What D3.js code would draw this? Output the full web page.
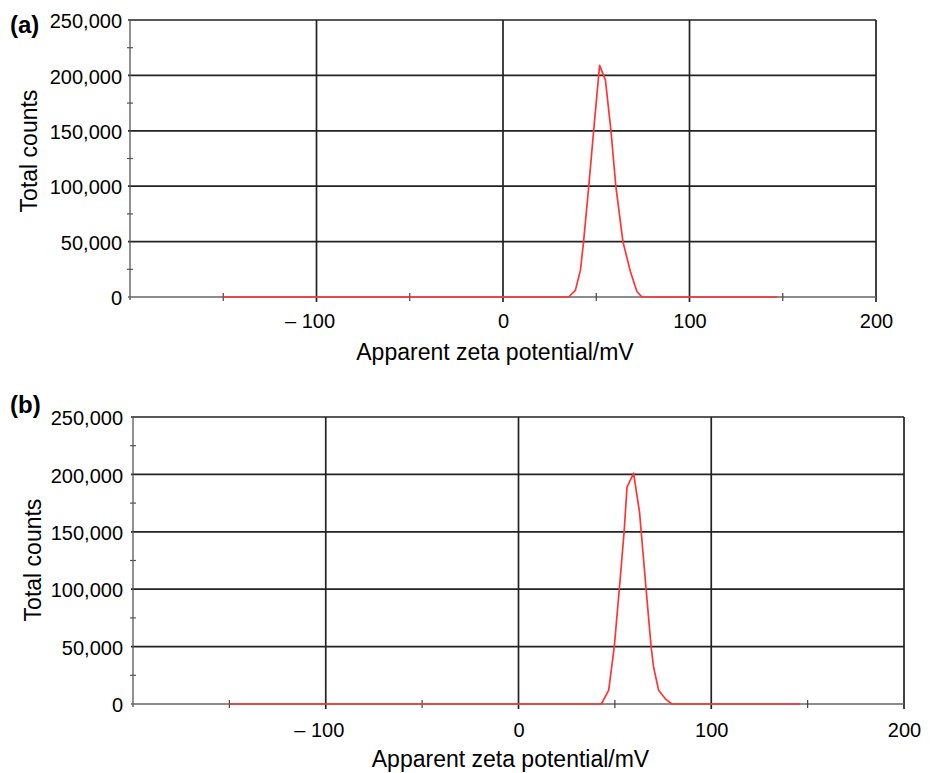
<!DOCTYPE html>
<html>
<head>
<meta charset="utf-8">
<script src="https://cdn.jsdelivr.net/npm/d3@7"></script>
<style>
  html, body { margin: 0; padding: 0; background: #fff; }
  svg { display: block; }
  text { font-family: "Liberation Sans", Arial, Helvetica, sans-serif; fill: #000; }
</style>
</head>
<body>
<svg id="chart" width="933" height="773"></svg>
<script>
// ---- data ----
const panelLabels = ["(a)", "(b)"];
const xTitle = "Apparent zeta potential/mV";
const yTitle = "Total counts";
const xLabelTicks = [-100, 0, 100, 200];
const xMinorTicks = [-150, -50, 50, 150];
const yMajorTicks = [0, 50000, 100000, 150000, 200000, 250000];
const yMinorTicks = [25000, 75000, 125000, 175000, 225000];

const zetaA   = [-150, 35.2, 38.8, 41.5, 43.2, 46.0, 48.6, 51.8, 54.9, 57.9, 60.5, 64.3, 68.3, 71.8, 74.5, 147];
const countsA = [0,    0,    6000, 24000, 50000, 100000, 150000, 209000, 196000, 150000, 100000, 50000, 23000, 5000, 0, 0];

const zetaB   = [-150, 43.0, 46.8, 49.7, 52.3, 54.8, 56.3, 59.7, 62.8, 66.2, 68.8, 70.1, 72.7, 76.5, 79.6, 146];
const countsB = [0,    0,    12000, 50000, 100000, 150000, 189000, 201000, 167000, 100000, 50000, 32000, 12000, 4000, 0, 0];

// ---- drawing ----
const svg = d3.select("#chart");

const panels = [
  { label: panelLabels[0], zeta: zetaA, counts: countsA,
    left: 130, right: 876, top: 20, bottom: 297,
    labelX: 10, labelY: 33, yTitleX: 37, yTitleY: 151, xTickDy: 31, xTitleY: 360, yLabelGap: 8 },
  { label: panelLabels[1], zeta: zetaB, counts: countsB,
    left: 133, right: 904, top: 417, bottom: 704,
    labelX: 10, labelY: 413, yTitleX: 41, yTitleY: 560, xTickDy: 33, xTitleY: 767, yLabelGap: 10 }
];

panels.forEach(p => {
  const x = d3.scaleLinear().domain([-200, 200]).range([p.left, p.right]);
  const y = d3.scaleLinear().domain([0, 250000]).range([p.bottom, p.top]);
  const g = svg.append("g");

  // horizontal gridlines
  g.selectAll(".hgrid").data(yMajorTicks.filter(v => v > 0)).enter().append("line")
    .attr("x1", p.left - 2).attr("x2", p.right)
    .attr("y1", d => y(d)).attr("y2", d => y(d))
    .attr("stroke", "#222").attr("stroke-width", 1.7);

  // vertical gridlines
  g.selectAll(".vgrid").data(xLabelTicks).enter().append("line")
    .attr("x1", d => x(d)).attr("x2", d => x(d))
    .attr("y1", p.top).attr("y2", p.bottom + 5)
    .attr("stroke", "#222").attr("stroke-width", 1.7);

  // left axis line
  g.append("line")
    .attr("x1", p.left).attr("x2", p.left)
    .attr("y1", p.top).attr("y2", p.bottom + 3)
    .attr("stroke", "#555").attr("stroke-width", 1.3);

  // bottom axis line
  g.append("line")
    .attr("x1", p.left - 2).attr("x2", p.right)
    .attr("y1", p.bottom).attr("y2", p.bottom)
    .attr("stroke", "#666").attr("stroke-width", 1.3);

  // y minor ticks
  g.selectAll(".yminor").data(yMinorTicks).enter().append("line")
    .attr("x1", p.left - 3).attr("x2", p.left + 3)
    .attr("y1", d => y(d)).attr("y2", d => y(d))
    .attr("stroke", "#555").attr("stroke-width", 1.2);

  // x minor ticks
  g.selectAll(".xminor").data(xMinorTicks).enter().append("line")
    .attr("x1", d => x(d)).attr("x2", d => x(d))
    .attr("y1", p.bottom - 4).attr("y2", p.bottom + 4)
    .attr("stroke", "#444").attr("stroke-width", 1.2);

  // y tick labels via d3 axis
  const yAxis = d3.axisLeft(y).tickValues(yMajorTicks).tickFormat(d3.format(",")).tickSize(0).tickPadding(p.yLabelGap);
  const ya = g.append("g").attr("transform", `translate(${p.left},0)`).call(yAxis);
  ya.select(".domain").remove();
  ya.selectAll("text").attr("font-size", 20).attr("font-family", "Liberation Sans, Arial, sans-serif").attr("fill", "#000").attr("dy", "0.38em");

  // x tick labels via d3 axis
  const xAxis = d3.axisBottom(x).tickValues(xLabelTicks)
    .tickFormat(d => d < 0 ? "\u2013 " + Math.abs(d) : String(d)).tickSize(0).tickPadding(0);
  const xa = g.append("g").attr("transform", `translate(0,${p.bottom})`).call(xAxis);
  xa.select(".domain").remove();
  xa.selectAll("text").attr("font-size", 20).attr("font-family", "Liberation Sans, Arial, sans-serif").attr("fill", "#000")
    .attr("y", p.xTickDy).attr("dy", 0);
  xa.selectAll(".tick text").filter(d => d < 0).attr("dx", "-0.35em");

  // red data line
  const pts = p.zeta.map((z, i) => [z, p.counts[i]]);
  g.append("path")
    .datum(pts)
    .attr("fill", "none")
    .attr("stroke", "#ff3535")
    .attr("stroke-width", 1.7)
    .attr("stroke-linejoin", "round")
    .attr("d", d3.line().x(d => x(d[0])).y(d => y(d[1])));

  // axis titles
  g.append("text")
    .attr("x", (p.left + p.right) / 2 - 8).attr("y", p.xTitleY)
    .attr("text-anchor", "middle").attr("font-size", 23)
    .text(xTitle);

  g.append("text")
    .attr("transform", `translate(${p.yTitleX},${p.yTitleY}) rotate(-90)`)
    .attr("text-anchor", "middle").attr("font-size", 23)
    .text(yTitle);

  // panel label
  g.append("text")
    .attr("x", p.labelX).attr("y", p.labelY)
    .attr("font-size", 24).attr("font-weight", "bold")
    .text(p.label);
});
</script>
</body>
</html>
